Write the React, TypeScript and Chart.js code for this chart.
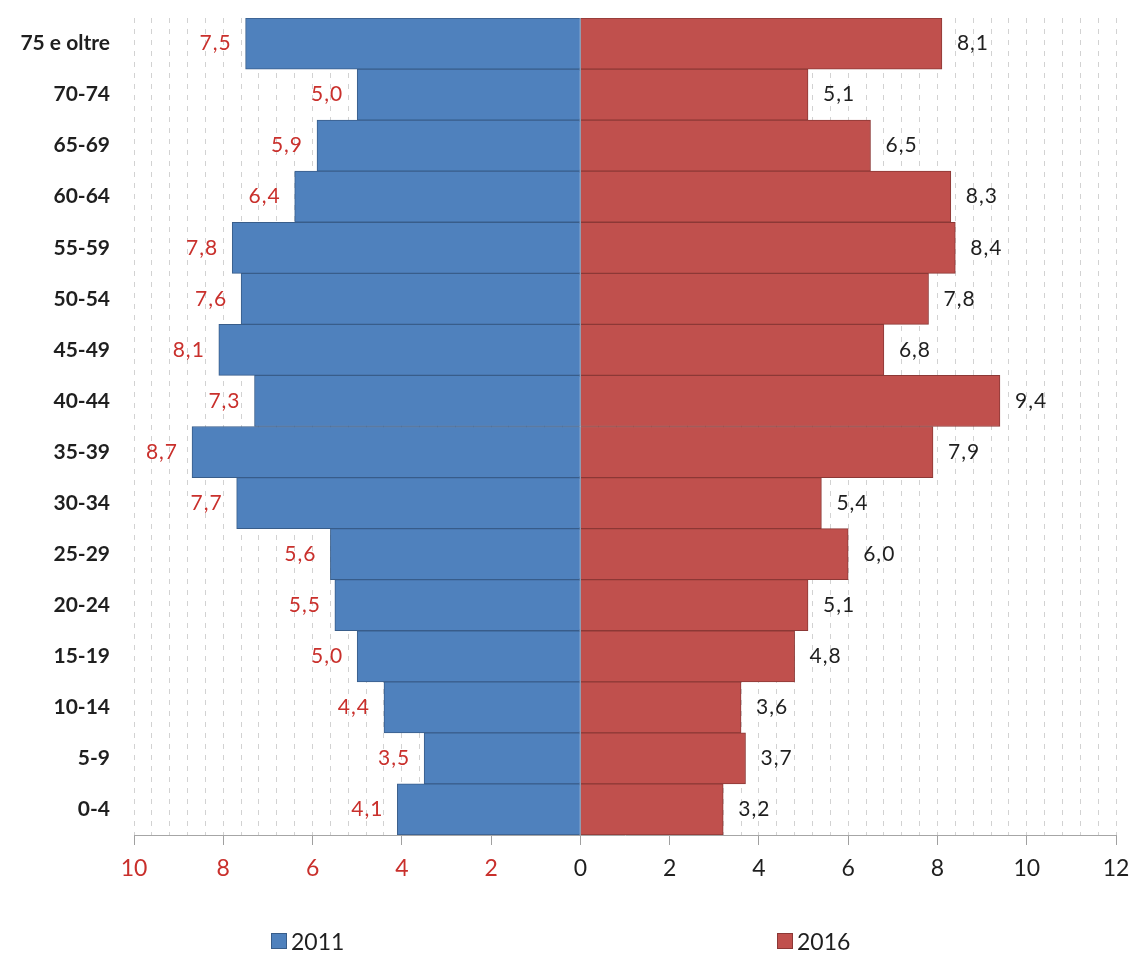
import { useEffect, useRef } from 'react';
import { Chart, registerables } from 'chart.js';

Chart.register(...registerables);

const ageGroups = ['75 e oltre', '70-74', '65-69', '60-64', '55-59', '50-54', '45-49', '40-44', '35-39', '30-34', '25-29', '20-24', '15-19', '10-14', '5-9', '0-4'];
const values2011 = [7.5, 5.0, 5.9, 6.4, 7.8, 7.6, 8.1, 7.3, 8.7, 7.7, 5.6, 5.5, 5.0, 4.4, 3.5, 4.1];
const values2016 = [8.1, 5.1, 6.5, 8.3, 8.4, 7.8, 6.8, 9.4, 7.9, 5.4, 6.0, 5.1, 4.8, 3.6, 3.7, 3.2];
const seriesNames = ['2011', '2016'];
const xMin = -10;
const xMax = 12;
const gridStep = 0.4;
const labelStep = 2;

const BLUE = '#4F81BD';
const BLUE_BORDER = '#385D8A';
const RED = '#C0504D';
const RED_BORDER = '#8C3836';
const LABEL_RED = '#C9302C';
const TEXT = '#1f1f1f';
const FONT = 'Lato, "Open Sans", sans-serif';

const isMajor = (v: number) => Math.abs(Math.round(v / labelStep) * labelStep - v) < 1e-6;
const fmt = (v: number) => Math.abs(v).toFixed(1).replace('.', ',');

const valueLabels = {
  id: 'valueLabels',
  afterDatasetsDraw(chart: any) {
    const ctx = chart.ctx;
    const xScale = chart.scales.x;
    const area = chart.chartArea;
    ctx.save();
    // zero line between the two halves
    const x0 = Math.round(xScale.getPixelForValue(0)) + 0.5;
    ctx.strokeStyle = '#8f9bb0';
    ctx.lineWidth = 1;
    ctx.beginPath();
    ctx.moveTo(x0, area.top);
    ctx.lineTo(x0, area.bottom);
    ctx.stroke();

    ctx.font = `21px ${FONT}`;
    try {
      ctx.letterSpacing = '1px';
    } catch (e) {
      /* ignore */
    }
    ctx.textBaseline = 'middle';
    chart.data.datasets.forEach((ds: any, di: number) => {
      const meta = chart.getDatasetMeta(di);
      meta.data.forEach((bar: any, i: number) => {
        const v = ds.data[i] as number;
        const txt = fmt(v);
        if (v < 0) {
          ctx.textAlign = 'right';
          ctx.fillStyle = LABEL_RED;
          ctx.fillText(txt, bar.x - 14, bar.y);
        } else {
          ctx.textAlign = 'left';
          ctx.fillStyle = TEXT;
          ctx.fillText(txt, bar.x + 15, bar.y);
        }
      });
    });
    ctx.restore();
  },
};

export default function App() {
  const ref = useRef<HTMLCanvasElement>(null);

  useEffect(() => {
    if (!ref.current) return;
    const chart = new Chart(ref.current, {
      type: 'bar',
      data: {
        labels: ageGroups,
        datasets: [
          {
            label: seriesNames[0],
            data: values2011.map((v) => -v),
            backgroundColor: BLUE,
            borderColor: BLUE_BORDER,
            borderWidth: 1,
            barPercentage: 1,
            categoryPercentage: 1,
          },
          {
            label: seriesNames[1],
            data: values2016,
            backgroundColor: RED,
            borderColor: RED_BORDER,
            borderWidth: 1,
            barPercentage: 1,
            categoryPercentage: 1,
          },
        ],
      },
      options: {
        indexAxis: 'y',
        responsive: false,
        animation: false,
        layout: { padding: { top: 18, right: 17, left: 0, bottom: 0 } },
        plugins: { legend: { display: false }, tooltip: { enabled: false } },
        scales: {
          x: {
            type: 'linear',
            min: xMin,
            max: xMax,
            stacked: true,
            afterFit: (s: any) => {
              s.height = 118;
              s.paddingLeft = 0;
              s.paddingRight = 0;
            },
            ticks: {
              stepSize: gridStep,
              autoSkip: false,
              maxTicksLimit: 100,
              maxRotation: 0,
              padding: 10,
              font: { family: FONT, size: 23 },
              color: (c: any) => (c.tick && c.tick.value < 0 ? LABEL_RED : TEXT),
              callback: (v: any) => (isMajor(Number(v)) ? String(Math.abs(Math.round(Number(v)))) : ''),
            },
            grid: {
              color: '#d2d2d2',
              lineWidth: 1,
              drawTicks: true,
              tickLength: 10,
              tickColor: (c: any) => (c.tick && isMajor(c.tick.value) ? '#a0a0a0' : 'rgba(0,0,0,0)'),
            },
            border: { display: true, color: '#a6a6a6', width: 1, dash: [5, 6] },
          },
          y: {
            type: 'category',
            stacked: true,
            afterFit: (s: any) => {
              s.width = 134;
              s.paddingTop = 0;
              s.paddingBottom = 0;
            },
            grid: { display: false, drawTicks: false },
            border: { display: false },
            ticks: {
              padding: 24,
              font: { family: FONT, size: 21, weight: 'bold' },
              color: TEXT,
            },
          },
        },
      } as any,
      plugins: [valueLabels],
    });
    return () => chart.destroy();
  }, []);

  const legendItem = (left: number, color: string, border: string, text: string) => (
    <div
      style={{
        position: 'absolute',
        left,
        top: 928,
        display: 'flex',
        alignItems: 'center',
        fontFamily: FONT,
        fontSize: 23,
        color: TEXT,
        lineHeight: '26px',
      }}
    >
      <span
        style={{
          display: 'inline-block',
          width: 14,
          height: 14,
          background: color,
          border: `1px solid ${border}`,
          marginRight: 4,
        }}
      />
      {text}
    </div>
  );

  return (
    <div style={{ position: 'fixed', left: 0, top: 0, width: 1133, height: 953, background: '#fff', overflow: 'hidden' }}>
      <canvas ref={ref} width={1133} height={953} style={{ position: 'absolute', left: 0, top: 0 }} />
      {legendItem(271, BLUE, BLUE_BORDER, seriesNames[0])}
      {legendItem(777, RED, RED_BORDER, seriesNames[1])}
    </div>
  );
}
